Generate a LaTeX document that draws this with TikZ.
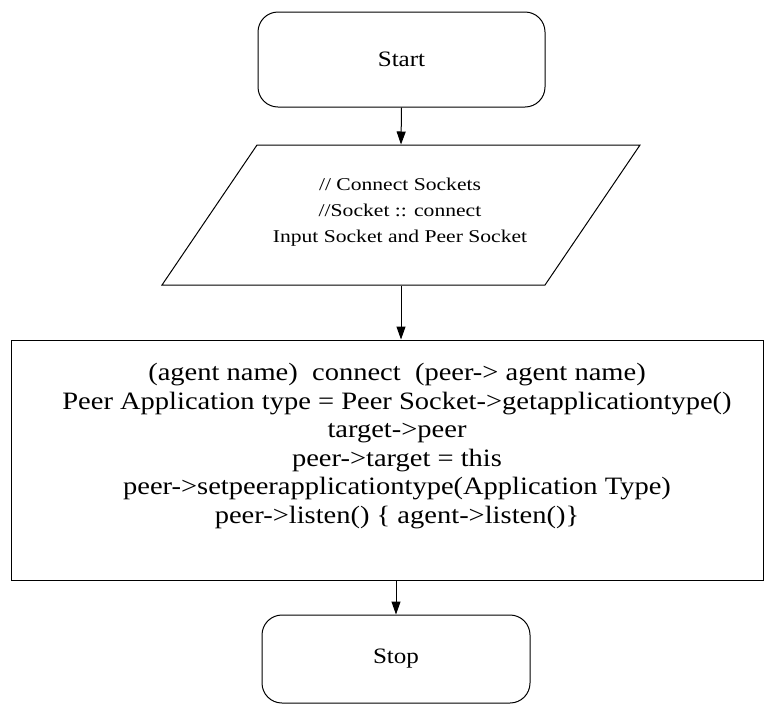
\documentclass[tikz,border=0pt]{standalone}
\usepackage{fontspec}
\setmainfont{Liberation Serif}
\newfontfamily\widefont[FakeStretch=1.14]{Liberation Serif}
\newfontfamily\iofont[FakeStretch=1.2]{Liberation Serif}
\usetikzlibrary{arrows.meta}
\begin{document}
\begin{tikzpicture}[x=1pt,y=-1pt,
  line width=1pt,
  terminal/.style={draw, rounded corners=20pt, inner sep=0pt, font=\widefont\fontsize{22}{26}\selectfont},
  flowarrow/.style={-{Triangle[length=13pt,width=9pt]}},
  iotext/.style={inner sep=0pt, align=center, font=\iofont\fontsize{18}{26}\selectfont},
  proctext/.style={inner sep=0pt, align=center, font=\widefont\fontsize{25}{28.5}\selectfont}]
\useasboundingbox (0,0) rectangle (767,705);

% terminals
\node[terminal, minimum width=287pt, minimum height=95pt] (start) at (401.5,59.5) {Start};
\node[terminal, minimum width=268pt, minimum height=88pt] (stop) at (396,659) {Stop};

% input/output parallelogram
\draw (257,145) -- (640,145) -- (545,285) -- (162,285) -- cycle;
\node[inner sep=0pt, minimum width=10pt, minimum height=140pt] (io) at (401,215) {};
\node[iotext] (iolabel) at (400,212) {// Connect Sockets\\//Socket :: connect\\Input Socket and Peer Socket};

% process box
\node[draw, inner sep=0pt, minimum width=752pt, minimum height=240pt] (proc) at (387,460) {};
\node[proctext] (proclabel) at (397,446) {(agent name)\ \ connect\ \ (peer-> agent name)\\
Peer Application type = Peer Socket->getapplicationtype()\\
target->peer\\
peer->target = this\\
peer->setpeerapplicationtype(Application Type)\\
peer->listen() \{ agent->listen()\}};

% connectors
\draw[flowarrow] (start.south) -- (io.north);
\draw[flowarrow] (io.south) -- (io.south |- proc.north);
\draw[flowarrow] (stop.north |- proc.south) -- (stop.north);
\end{tikzpicture}
\end{document}
